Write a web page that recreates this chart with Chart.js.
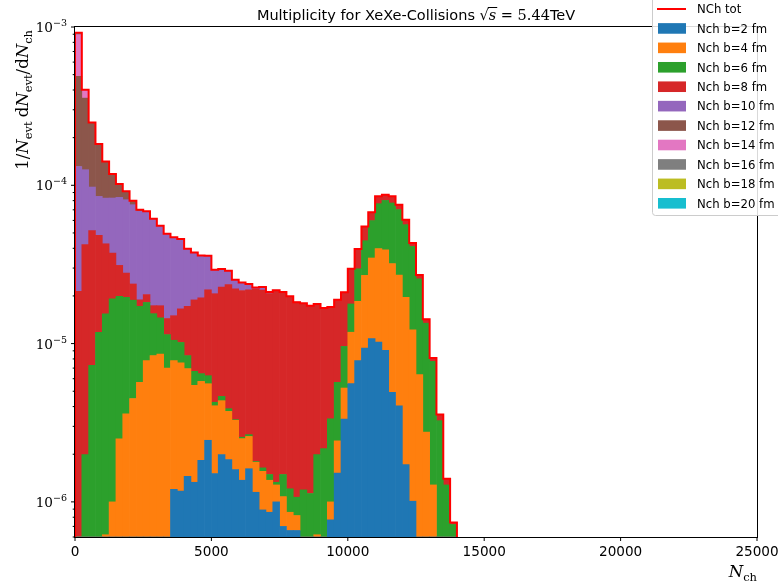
<!DOCTYPE html>
<html lang="en">
  <head>
    <meta charset="UTF-8" />
    <title>Multiplicity XeXe</title>
    <script src="https://cdn.jsdelivr.net/npm/chart.js"></script>
    <style>
      body { margin: 0; background: #fff; }
      #multChart { display: block; }
    </style>
  </head>

  <body>
    <canvas id="multChart" width="778" height="583"></canvas>

    <script>
      // N_ch histogram: 250 wide bins from 0 to 14000
      const binWidth = 250;
      const nBins = 56;
      const binCenters = Array.from({ length: nBins }, (_, i) => (i + 0.5) * binWidth);

      // 1/N_evt dN_evt/dN_ch for each impact parameter (bins past the end of a list are empty)
      const b2 = [0, 0, 0, 0, 0, 0, 0, 0, 0, 0, 0, 0, 0, 0,
        1.2e-6, 1.17e-6, 1.45e-6, 1.33e-6, 1.83e-6, 2.45e-6, 1.51e-6, 1.99e-6, 1.85e-6, 1.6e-6,
        1.37e-6, 1.62e-6, 1.15e-6, 8.9e-7, 8.6e-7, 1.0e-6, 7.0e-7, 6.6e-7, 6.6e-7, 0,
        0, 0, 0, 7.7e-7, 1.52e-6, 3.34e-6, 5.58e-6, 7.8e-6, 9.37e-6, 1.074e-5,
        1.023e-5, 9.06e-6, 4.92e-6, 4.05e-6, 1.72e-6, 1.01e-6];
      const b4 = [0, 0, 0, 0, 6.2e-7, 1.0e-6, 2.5e-6, 3.6e-6, 4.5e-6, 5.7e-6,
        7.8e-6, 8.4e-6, 8.6e-6, 7.0e-6, 6.6e-6, 6.4e-6, 5.5e-6, 4.12e-6, 3.94e-6, 3.13e-6,
        2.54e-6, 2.37e-6, 1.88e-6, 1.68e-6, 1.14e-6, 9.7e-7, 6.3e-7, 6.7e-7, 5.1e-7, 2.8e-7,
        3.8e-7, 2.0e-7, 1.6e-7, 0, 0, 6.2e-7, 0, 2.3e-7, 9.1e-7, 1.9e-6,
        6.22e-6, 1.07e-5, 1.76e-5, 2.4e-5, 2.96e-5, 3.01e-5, 2.71e-5, 2.3e-5, 1.79e-5, 1.12e-5,
        6.36e-6, 2.76e-6, 1.28e-6];
      const b6 = [0, 1.99e-6, 7.3e-6, 1.18e-5, 1.48e-5, 1.82e-5, 1.74e-5, 1.6e-5, 1.43e-5, 1.15e-5,
        1.04e-5, 7.06e-6, 5.95e-6, 4.4e-6, 2.7e-6, 2.6e-6, 1.45e-6, 1.23e-6, 6.9e-7, 6.9e-7,
        2.1e-7, 2.8e-7, 1.5e-7, 3e-8, 5e-8, 7e-8, 2e-8, 8e-8, 1.2e-7, 5e-8,
        4.1e-7, 3.5e-7, 2.5e-7, 1.19e-6, 1.13e-6, 1.37e-6, 2.17e-6, 2.35e-6, 3.26e-6, 4.36e-6,
        6.0e-6, 1.12e-5, 1.77e-5, 2.51e-5, 3.67e-5, 4.11e-5, 4.53e-5, 4.32e-5, 3.68e-5, 2.89e-5,
        1.93e-5, 1.07e-5, 6.44e-6, 3.26e-6, 1.28e-6, 7.2e-7];
      const b8 = [2.14e-5, 4.02e-5, 4.44e-5, 3.65e-5, 2.73e-5, 1.81e-5, 1.13e-5, 8.3e-6, 5.0e-6, 1.7e-6,
        2.2e-6, 1.9e-6, 2.8e-6, 3.0e-6, 4.5e-6, 6.4e-6, 8.8e-6, 1.22e-5, 1.3e-5, 1.56e-5,
        1.64e-5, 1.81e-5, 1.97e-5, 1.89e-5, 1.91e-5, 1.92e-5, 2.03e-5, 2.01e-5, 1.92e-5, 2.01e-5,
        1.97e-5, 1.87e-5, 1.72e-5, 1.68e-5, 1.62e-5, 1.58e-5, 1.46e-5, 1.365e-5, 1.32e-5, 1.15e-5,
        1.19e-5, 9.9e-6, 1.03e-5, 7.7e-6, 8.6e-6, 6.9e-6, 7.8e-6, 5.2e-6, 4.2e-6, 2.1e-6,
        1.5e-6, 8e-7, 4e-7, 3e-7, 1.2e-7, 2e-8];
      const b10 = [1.1e-4, 8.33e-5, 4.58e-5, 3.68e-5, 4.03e-5, 4.58e-5, 5.27e-5, 5.32e-5, 5.16e-5, 4.96e-5,
        4.81e-5, 4.42e-5, 3.82e-5, 3.51e-5, 3.19e-5, 2.92e-5, 2.26e-5, 1.88e-5, 1.66e-5, 1.4e-5,
        8.6e-6, 6.9e-6, 5.3e-6, 3.1e-6, 2.7e-6, 1.9e-6, 5e-7, 1.0e-6, 5e-7, 3e-7];
      const b12 = [3.56e-4, 2.3e-4, 1.52e-4, 9.72e-5, 5.85e-5, 3.47e-5, 1.8e-5, 1.05e-5, 4.5e-6, 1.5e-6];
      const b14 = [4.06e-4, 4.6e-5];
      const b16 = [2.5e-5];
      const b18 = [0];
      const b20 = [0];

      const bandData = [b2, b4, b6, b8, b10, b12, b14, b16, b18, b20];
      const bandLabels = ["Nch b=2 fm", "Nch b=4 fm", "Nch b=6 fm", "Nch b=8 fm", "Nch b=10 fm",
        "Nch b=12 fm", "Nch b=14 fm", "Nch b=16 fm", "Nch b=18 fm", "Nch b=20 fm"];
      const bandColors = ["#1f77b4", "#ff7f0e", "#2ca02c", "#d62728", "#9467bd",
        "#8c564b", "#e377c2", "#7f7f7f", "#bcbd22", "#17becf"];

      const xTicks = [0, 5000, 10000, 15000, 20000, 25000];
      const yMajors = [-6, -5, -4, -3];

      // summed histogram, drawn as a step outline along the bin edges
      const total = binCenters.map((_, i) => bandData.reduce((s, arr) => s + (arr[i] ?? 0), 0));
      const outline = [{ x: 0, y: 1e-8 }];
      total.forEach((v, i) => outline.push({ x: i * binWidth, y: v }));
      outline.push({ x: nBins * binWidth, y: 1e-8 });

      const datasets = bandData.map((arr, k) => ({
        type: "bar",
        label: bandLabels[k],
        data: binCenters.map((x, i) => ({ x: x, y: arr[i] ?? 0 })),
        backgroundColor: bandColors[k],
        borderWidth: 0,
        barPercentage: 1,
        categoryPercentage: 1,
        order: 1,
      }));
      datasets.push({
        type: "line",
        label: "NCh tot",
        data: outline,
        borderColor: "#ff0000",
        borderWidth: 2,
        pointRadius: 0,
        stepped: "before",
        fill: false,
        order: 0,
      });

      const SANS = "DejaVu Sans";
      const SERIF = "DejaVu Serif";

      // text made of several pieces (roman, italic, sub/superscripts)
      function runsWidth(c, runs) {
        let w = 0;
        for (const r of runs) {
          c.font = r[1];
          w += c.measureText(r[0]).width + (r[3] || 0);
        }
        return w;
      }
      function drawRuns(c, runs, x, y) {
        for (const r of runs) {
          c.font = r[1];
          c.fillText(r[0], x, y + (r[2] || 0));
          x += c.measureText(r[0]).width + (r[3] || 0);
        }
        return x;
      }

      const axesDecor = {
        id: "axesDecor",
        afterDraw(chart) {
          const c = chart.ctx;
          const a = chart.chartArea;
          const xs = chart.scales.x;
          const ys = chart.scales.y;
          c.save();
          c.fillStyle = "#000";
          c.strokeStyle = "#000";
          c.textBaseline = "alphabetic";

          // frame
          c.lineWidth = 1;
          c.strokeRect(a.left - 0.5, a.top - 0.5, a.right - a.left + 1, a.bottom - a.top + 1);

          // x ticks
          c.font = "13.6px " + SANS;
          c.textAlign = "center";
          xTicks.forEach((v) => {
            const px = xs.getPixelForValue(v);
            c.beginPath();
            c.moveTo(px, a.bottom);
            c.lineTo(px, a.bottom + 4);
            c.stroke();
            c.fillText(String(v), px, a.bottom + 19);
          });

          // y ticks, decades labelled
          c.textAlign = "left";
          for (let e = -7; e <= -3; e++) {
            for (let k = 1; k <= 9; k++) {
              const v = k * Math.pow(10, e);
              if (v < ys.min * 0.999 || v > ys.max * 1.001) continue;
              const py = ys.getPixelForValue(v);
              const len = k === 1 ? 4 : 2.3;
              c.beginPath();
              c.moveTo(a.left, py);
              c.lineTo(a.left - len, py);
              c.stroke();
            }
          }
          yMajors.forEach((e) => {
            const py = ys.getPixelForValue(Math.pow(10, e));
            const runs = [["10", "13.6px " + SERIF, 0], ["\u2212" + Math.abs(e), "9.5px " + SERIF, -6]];
            const w = runsWidth(c, runs);
            drawRuns(c, runs, a.left - 8 - w, py + 5);
          });

          // y label, read upward, ending at the top of the axes
          const sub = "11.5px " + SERIF;
          const rm = "16.5px " + SERIF;
          const it = "italic 16.5px " + SERIF;
          const yl = [["1/", rm], ["N", it], ["evt", sub, 3.5, 4], ["d", rm], ["N", it], ["evt", sub, 3.5],
            ["/", rm], ["d", rm], ["N", it], ["ch", sub, 3.5]];
          const ylw = runsWidth(c, yl);
          c.save();
          c.translate(28, a.top + 3);
          c.rotate(-Math.PI / 2);
          drawRuns(c, yl, -ylw, 0);
          c.restore();

          // x label at the right end
          const xl = [["N", it], ["ch", sub, 3.5]];
          drawRuns(c, xl, a.right - runsWidth(c, xl), 577);

          // title
          const tSans = "14.5px " + SANS;
          const tl = [["Multiplicity for XeXe-Collisions ", tSans], ["\u221A", "14.5px " + SERIF, 0, 0],
            ["s", "italic 14.5px " + SERIF], [" = 5.44", "14.5px " + SERIF], ["TeV", tSans]];
          const tw = runsWidth(c, tl);
          let tx = (a.left + a.right) / 2 - tw / 2;
          const x0 = drawRuns(c, tl.slice(0, 2), tx, 20);
          c.font = "italic 14.5px " + SERIF;
          const sw = c.measureText("s").width;
          c.fillRect(x0 - 1, 7, sw + 2, 1);
          drawRuns(c, tl.slice(2), x0, 20);

          // legend
          const lx = 652, lTop = -6, lBottom = 215.5, lRight = 800;
          c.fillStyle = "rgba(255,255,255,0.85)";
          c.strokeStyle = "#cccccc";
          c.lineWidth = 1;
          c.beginPath();
          c.roundRect(lx + 0.5, lTop, lRight - lx, lBottom - lTop, 3);
          c.fill();
          c.stroke();
          const rowY = (i) => 9 + i * 19.43;
          c.strokeStyle = "#ff0000";
          c.lineWidth = 2;
          c.beginPath();
          c.moveTo(657, rowY(0));
          c.lineTo(686, rowY(0));
          c.stroke();
          bandColors.forEach((col, k) => {
            c.fillStyle = col;
            c.fillRect(658, rowY(k + 1) - 5.3, 28, 10.6);
          });
          c.fillStyle = "#000";
          c.font = "11.7px " + SANS;
          c.textAlign = "left";
          ["NCh tot"].concat(bandLabels).forEach((t, i) => c.fillText(t, 697, rowY(i) + 4.3));
          c.restore();
        },
      };

      const ctx = document.getElementById("multChart").getContext("2d");
      const multChart = new Chart(ctx, {
        type: "bar",
        data: { datasets: datasets },
        options: {
          responsive: false,
          animation: false,
          layout: { padding: { left: 75, right: 21, top: 27, bottom: 46 } },
          scales: {
            x: { type: "linear", min: 0, max: 25000, offset: false, stacked: true, display: false },
            y: { type: "logarithmic", min: 6e-7, max: 1e-3, stacked: true, display: false },
          },
          plugins: {
            legend: { display: false },
            tooltip: { enabled: false },
          },
        },
        plugins: [axesDecor],
      });
    </script>
  </body>
</html>
